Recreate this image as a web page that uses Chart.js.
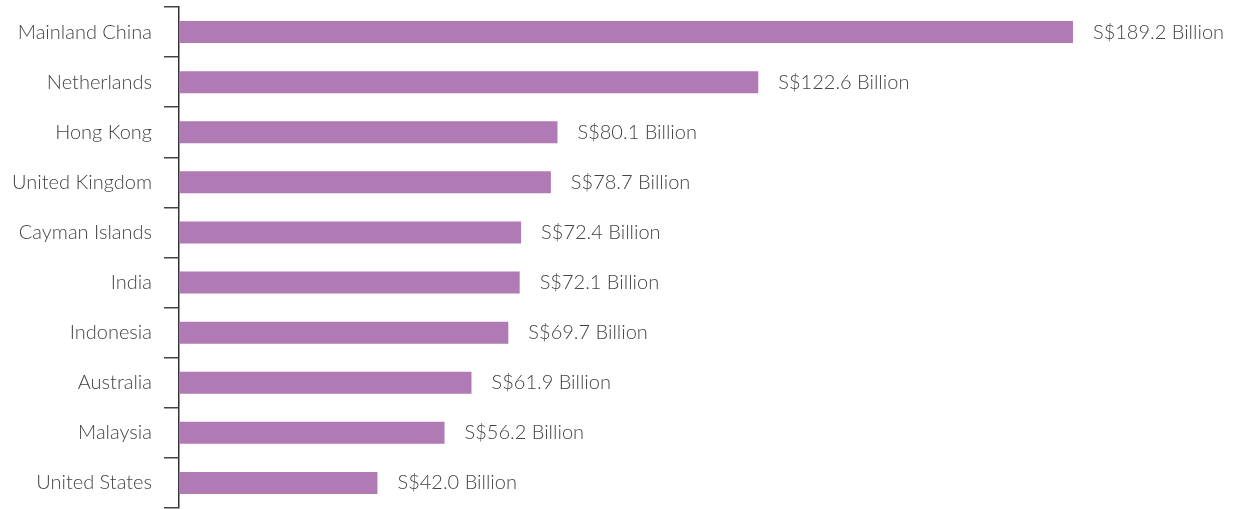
<!DOCTYPE html>
<html>
<head>
<meta charset="utf-8">
<script src="https://cdn.jsdelivr.net/npm/chart.js@4/dist/chart.umd.min.js"></script>
<style>
  html, body { margin: 0; padding: 0; background: #fff; }
  #wrap { width: 1235px; height: 509px; position: relative; }
</style>
</head>
<body>
<div id="wrap"><canvas id="chart"></canvas></div>
<script>
// Top investment destinations, S$ billion
const countries = [
  'Mainland China', 'Netherlands', 'Hong Kong', 'United Kingdom', 'Cayman Islands',
  'India', 'Indonesia', 'Australia', 'Malaysia', 'United States',
];
const values = [189.2, 122.6, 80.1, 78.7, 72.4, 72.1, 69.7, 61.9, 56.2, 42.0];

const BAR_COLOR = '#b07ab4';
const TEXT_COLOR = '#444';
const FONT_FAMILY = "Lato, 'Open Sans', sans-serif";

// Writes "S$xx.x Billion" just past the end of each bar
const valueLabels = {
  id: 'valueLabels',
  afterDatasetsDraw(chart) {
    const { ctx } = chart;
    const meta = chart.getDatasetMeta(0);
    ctx.save();
    ctx.font = `300 20px ${FONT_FAMILY}`;
    ctx.fillStyle = TEXT_COLOR;
    ctx.textAlign = 'left';
    ctx.textBaseline = 'middle';
    meta.data.forEach((bar, i) => {
      ctx.fillText(`S$${values[i].toFixed(1)} Billion`, bar.x + 20, bar.y);
    });
    ctx.restore();
  },
};

new Chart(document.getElementById('chart'), {
  type: 'bar',
  data: {
    labels: countries,
    datasets: [{
      data: values,
      backgroundColor: BAR_COLOR,
      borderWidth: 0,
      barPercentage: 0.44,
      categoryPercentage: 1,
    }],
  },
  plugins: [valueLabels],
  options: {
    indexAxis: 'y',
    responsive: true,
    maintainAspectRatio: false,
    animation: false,
    layout: { padding: { top: 7, bottom: 1, right: 111, left: 0 } },
    plugins: {
      legend: { display: false },
      tooltip: { enabled: false },
    },
    scales: {
      x: {
        display: false,
        min: 0,
        max: 200,
      },
      y: {
        offset: true,
        afterFit: (s) => {
          s.width = 179;
          s.paddingTop = 0;
          s.paddingBottom = 0;
        },
        border: { display: true, color: '#333', width: 1.5 },
        grid: {
          offset: true,
          drawOnChartArea: false,
          drawTicks: true,
          tickLength: 15,
          color: '#444',
          lineWidth: 1.5,
        },
        ticks: {
          color: TEXT_COLOR,
          padding: 12,
          font: { family: FONT_FAMILY, size: 20, weight: 300 },
        },
      },
    },
  },
});
</script>
</body>
</html>
